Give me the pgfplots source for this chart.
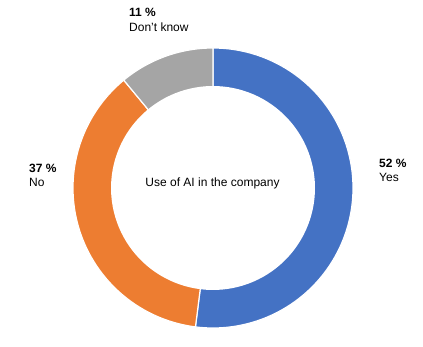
\documentclass[border=0pt]{standalone}
\usepackage{pgfplots}
\pgfplotsset{compat=1.18}
\usepackage{fontspec}
\setmainfont{Liberation Sans}
\definecolor{cyes}{HTML}{4472C4}
\definecolor{cno}{HTML}{ED7D31}
\definecolor{cdk}{HTML}{A5A5A5}
% shares in percent
\def\pYes{52}
\def\pNo{37}
\def\pDk{11}
% ring geometry in px
\def\cx{213}
\def\cy{159}
\def\ro{140}
\def\ri{102}
\begin{document}
\fontsize{12}{14}\selectfont
\begin{tikzpicture}
\begin{axis}[
  scale only axis, width=423pt, height=347pt,
  xmin=0, xmax=423, ymin=0, ymax=347,
  hide axis, clip=false,
  every axis plot/.append style={draw=white, line width=1.2pt, samples=120},
]
\path (rel axis cs:0,0) rectangle (rel axis cs:1,1);
% clockwise from 12 o'clock
\addplot[fill=cyes, domain={90-3.6*\pYes}:90]
  ({\cx+\ro*cos(x)}, {\cy+\ro*sin(x)}) -- (axis cs:\cx,\cy) -- cycle;
\addplot[fill=cno, domain={90-3.6*(\pYes+\pNo)}:{90-3.6*\pYes}]
  ({\cx+\ro*cos(x)}, {\cy+\ro*sin(x)}) -- (axis cs:\cx,\cy) -- cycle;
\addplot[fill=cdk, domain={90-3.6*(\pYes+\pNo+\pDk)}:{90-3.6*(\pYes+\pNo)}]
  ({\cx+\ro*cos(x)}, {\cy+\ro*sin(x)}) -- (axis cs:\cx,\cy) -- cycle;
\addplot[fill=white, draw=none, domain=0:360]
  ({\cx+\ri*cos(x)}, {\cy+\ri*sin(x)}) -- cycle;
\node[anchor=base] at (axis cs:212.5,160) {Use of AI in the company};
\node[anchor=base west, font=\bfseries] at (axis cs:375,179) {\pYes\ \%};
\node[anchor=base west] at (axis cs:375,165) {Yes};
\node[anchor=base west, font=\bfseries] at (axis cs:25,174) {\pNo\ \%};
\node[anchor=base west] at (axis cs:25,160) {No};
\node[anchor=base west, font=\bfseries] at (axis cs:125,330.5) {\pDk\ \%};
\node[anchor=base west] at (axis cs:125,315) {Don’t know};
\end{axis}
\end{tikzpicture}
\end{document}
